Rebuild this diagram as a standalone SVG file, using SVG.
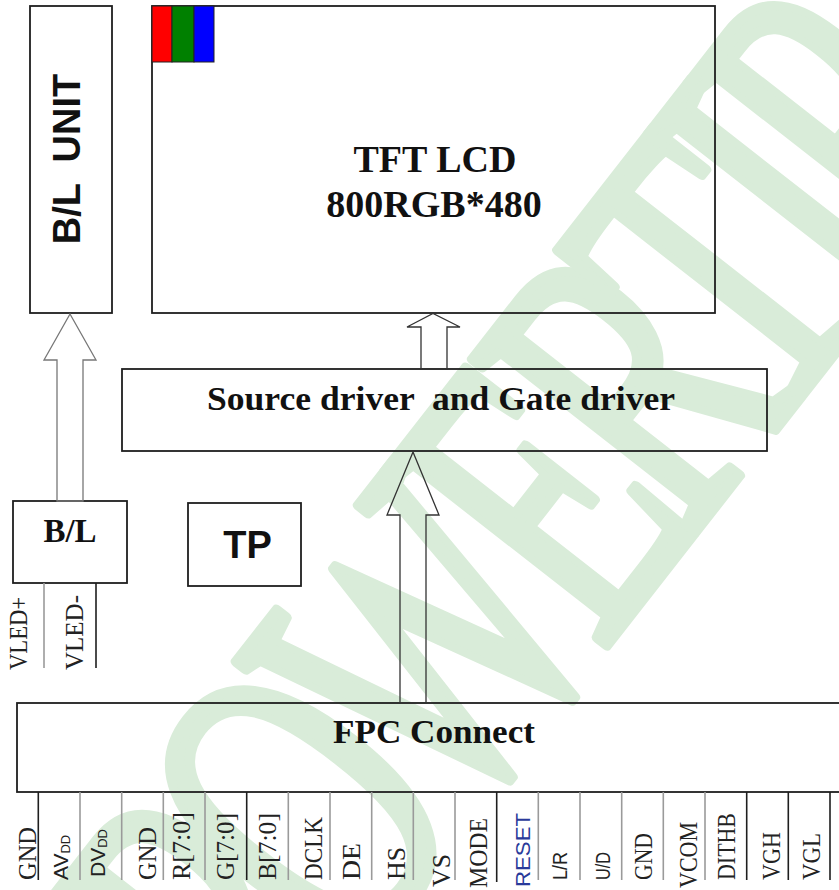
<svg xmlns="http://www.w3.org/2000/svg" width="839" height="890" viewBox="0 0 839 890">
<style>
.box{fill:none;stroke:#1e1e1e;stroke-width:1.8}
.arr{fill:none;stroke:#333;stroke-width:1.3;stroke-linejoin:miter}
.pin{stroke:#9a9a9a;stroke-width:1.6}
.pinb{stroke:#1e1e1e;stroke-width:1.6}
.tb{font-family:"Liberation Serif","Times New Roman",serif;font-weight:bold;fill:#111}
.sb{font-family:"Liberation Sans",Arial,sans-serif;font-weight:bold;fill:#111}
.ps{font-family:"Liberation Serif","Times New Roman",serif;font-size:25px;fill:#222}
.pa{font-family:"Liberation Sans",Arial,sans-serif;font-size:21px;fill:#222}
.wm{font-family:"Liberation Serif","Times New Roman",serif;font-size:330px;font-weight:normal;letter-spacing:-30px;fill:#d9ecd9;stroke:#d9ecd9;stroke-width:9px;stroke-linejoin:round}
</style>
<rect width="839" height="890" fill="#ffffff"/>
<g id="watermark">
<text class="wm" transform="translate(272,1073) rotate(-52) scale(0.83,1.3)">POWERTIP</text>
</g>
<g id="bl-unit">
<rect class="box" x="30" y="6" width="82" height="307"/>
<text class="sb" font-size="38" transform="translate(80,159) rotate(-90)" text-anchor="middle" xml:space="preserve">B/L  UNIT</text>
</g>
<g id="tft-lcd">
<rect class="box" x="152" y="6" width="563" height="307"/>
<rect x="152" y="6" width="20" height="56" fill="#ff0000" stroke="#222" stroke-width="1"/>
<rect x="172" y="6" width="22" height="56" fill="#008000" stroke="#222" stroke-width="1"/>
<rect x="194" y="6" width="20" height="56" fill="#0000ff" stroke="#222" stroke-width="1"/>
<text class="tb" font-size="38" x="435" y="172" text-anchor="middle">TFT LCD</text>
<text class="tb" font-size="38" x="434" y="217" text-anchor="middle">800RGB*480</text>
</g>
<g id="driver">
<rect class="box" x="122" y="369" width="645" height="82"/>
<text class="tb" font-size="34" x="207" y="410" textLength="468" lengthAdjust="spacingAndGlyphs" xml:space="preserve">Source driver  and Gate driver</text>
</g>
<g id="bl">
<rect class="box" x="13" y="501" width="114" height="82"/>
<text class="tb" font-size="33" x="70" y="542" text-anchor="middle">B/L</text>
</g>
<g id="tp">
<rect class="box" x="188" y="503" width="113" height="83"/>
<text class="sb" font-size="38" x="247.5" y="558" text-anchor="middle">TP</text>
</g>
<g id="fpc">
<rect class="box" x="17" y="703" width="830" height="89"/>
<text class="tb" font-size="34" x="333" y="743" textLength="202" lengthAdjust="spacingAndGlyphs">FPC Connect</text>
</g>
<g id="connectors">
<polygon class="arr" style="stroke:#777" points="57,501 57,360 44,360 70,314 96,360 83,360 83,501"/>
<polygon class="arr" points="421,369 421,327 407,327 433,313.5 460,327 447,327 447,369"/>
<polygon class="arr" points="400,703 400,515 387,515 413,452 439,515 426,515 426,703"/>
<line class="pin" x1="44" y1="583" x2="44" y2="668"/>
<line class="pinb" x1="96" y1="583" x2="96" y2="668"/>
</g>
<g id="vled-labels">
<text class="ps" font-size="22" transform="translate(27,670) rotate(-90)" textLength="73" lengthAdjust="spacingAndGlyphs">VLED+</text>
<text class="ps" font-size="22" transform="translate(83,670) rotate(-90)" textLength="75" lengthAdjust="spacingAndGlyphs">VLED-</text>
</g>
<g id="pins">
<line class="pinb" x1="38.3" y1="792" x2="38.3" y2="880"/>
<line class="pin" x1="80" y1="792" x2="80" y2="880"/>
<line class="pin" x1="121.7" y1="792" x2="121.7" y2="880"/>
<line class="pin" x1="163.3" y1="792" x2="163.3" y2="880"/>
<line class="pin" x1="205" y1="792" x2="205" y2="880"/>
<line class="pinb" x1="246.7" y1="792" x2="246.7" y2="880"/>
<line class="pin" x1="288.3" y1="792" x2="288.3" y2="880"/>
<line class="pin" x1="330" y1="792" x2="330" y2="880"/>
<line class="pin" x1="371.7" y1="792" x2="371.7" y2="880"/>
<line class="pin" x1="413.3" y1="792" x2="413.3" y2="880"/>
<line class="pin" x1="455" y1="792" x2="455" y2="880"/>
<line class="pinb" x1="496.7" y1="792" x2="496.7" y2="882"/>
<line class="pin" x1="538.3" y1="792" x2="538.3" y2="880"/>
<line class="pin" x1="580" y1="792" x2="580" y2="880"/>
<line class="pin" x1="621.7" y1="792" x2="621.7" y2="880"/>
<line class="pin" x1="663.3" y1="792" x2="663.3" y2="880"/>
<line class="pin" x1="705" y1="792" x2="705" y2="880"/>
<line class="pinb" x1="746.7" y1="792" x2="746.7" y2="880"/>
<line class="pinb" x1="788.3" y1="792" x2="788.3" y2="880"/>
<line class="pinb" x1="830" y1="792" x2="830" y2="880"/>
<text class="ps" transform="translate(36,880) rotate(-90)" textLength="53" lengthAdjust="spacingAndGlyphs">GND</text>
<text class="pa" transform="translate(68,880) rotate(-90)">AV<tspan font-size="13" dy="2">DD</tspan></text>
<text class="pa" transform="translate(105,877) rotate(-90)">DV<tspan font-size="13" dy="2">DD</tspan></text>
<text class="ps" transform="translate(156,880) rotate(-90)" textLength="53" lengthAdjust="spacingAndGlyphs">GND</text>
<text class="ps" transform="translate(190,880) rotate(-90)" textLength="68" lengthAdjust="spacingAndGlyphs">R[7:0]</text>
<text class="ps" transform="translate(234,880) rotate(-90)" textLength="67" lengthAdjust="spacingAndGlyphs">G[7:0]</text>
<text class="ps" transform="translate(276,880) rotate(-90)" textLength="67" lengthAdjust="spacingAndGlyphs">B[7:0]</text>
<text class="ps" transform="translate(322,880) rotate(-90)" textLength="63" lengthAdjust="spacingAndGlyphs">DCLK</text>
<text class="ps" transform="translate(360,880) rotate(-90)" textLength="37" lengthAdjust="spacingAndGlyphs">DE</text>
<text class="ps" transform="translate(405,880) rotate(-90)" textLength="33" lengthAdjust="spacingAndGlyphs">HS</text>
<text class="ps" transform="translate(450,887) rotate(-90)" textLength="33" lengthAdjust="spacingAndGlyphs">VS</text>
<text class="ps" transform="translate(487,888) rotate(-90)" textLength="70" lengthAdjust="spacingAndGlyphs">MODE</text>
<text class="pa" style="fill:#2a3a9a" transform="translate(530,887) rotate(-90)" textLength="74" lengthAdjust="spacingAndGlyphs">RESET</text>
<text class="pa" font-size="20" transform="translate(567,880) rotate(-90)" textLength="28" lengthAdjust="spacingAndGlyphs">L/R</text>
<text class="pa" font-size="20" transform="translate(610,880) rotate(-90)" textLength="28" lengthAdjust="spacingAndGlyphs">U/D</text>
<text class="ps" transform="translate(652,880) rotate(-90)" textLength="47" lengthAdjust="spacingAndGlyphs">GND</text>
<text class="ps" transform="translate(697,888) rotate(-90)" textLength="66" lengthAdjust="spacingAndGlyphs">VCOM</text>
<text class="ps" transform="translate(735,880) rotate(-90)" textLength="67" lengthAdjust="spacingAndGlyphs">DITHB</text>
<text class="ps" transform="translate(780,880) rotate(-90)" textLength="48" lengthAdjust="spacingAndGlyphs">VGH</text>
<text class="ps" transform="translate(820,880) rotate(-90)" textLength="47" lengthAdjust="spacingAndGlyphs">VGL</text>
</g>
</svg>
